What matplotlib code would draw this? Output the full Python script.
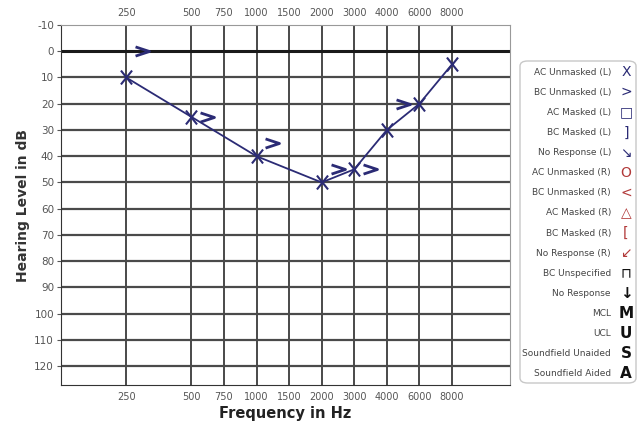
import numpy as np
import matplotlib
matplotlib.use("Agg")
from matplotlib import pyplot as plt
from matplotlib import transforms
from matplotlib.path import Path
from matplotlib.patches import FancyBboxPatch

# audiogram frequencies (Hz) and their axis slots (inter-octave freqs sit half-way)
freq_ticks = [250, 500, 750, 1000, 1500, 2000, 3000, 4000, 6000, 8000]
scale_freqs = [125, 250, 500, 750, 1000, 1500, 2000, 3000, 4000, 6000, 8000, 16000]
scale_slots = [-1, 0, 1, 1.5, 2, 2.5, 3, 3.5, 4, 4.5, 5, 6]
db_ticks = list(range(-10, 130, 10))

# left ear, air conduction unmasked (X)
ac_freqs = [250, 500, 1000, 2000, 3000, 4000, 6000, 8000]
ac_levels = [10, 25, 40, 50, 45, 30, 20, 5]

# left ear, bone conduction unmasked (>)
bc_freqs = [250, 500, 1000, 2000, 3000, 6000]
bc_levels = [0, 25, 35, 45, 45, 20]
bc_side = [1, 1, 1, 1, 1, -1]

legend_labels = ["AC Unmasked (L)", "BC Unmasked (L)", "AC Masked (L)", "BC Masked (L)",
                 "No Response (L)", "AC Unmasked (R)", "BC Unmasked (R)", "AC Masked (R)",
                 "BC Masked (R)", "No Response (R)", "BC Unspecified", "No Response",
                 "MCL", "UCL", "Soundfield Unaided", "Soundfield Aided"]
legend_symbols = ["X", ">", "\u25a1", "]", "\u2198", "O", "<", "\u25b3", "[", "\u2199",
                  "\u2293", "\u2193", "M", "U", "S", "A"]

NAVY = "#2b2b75"
RED = "#b23a3a"
legend_colors = [NAVY] * 5 + [RED] * 5 + ["#111111"] * 6
legend_bold = [False] * 11 + [True] * 5


def fwd(f):
    f = np.clip(np.asarray(f, dtype=float), 1e-3, None)
    return np.interp(np.log2(f), np.log2(scale_freqs), scale_slots,
                     left=np.nan, right=np.nan)


def inv(s):
    return 2 ** np.interp(s, scale_slots, np.log2(scale_freqs))


plt.rcParams['font.family'] = ['DejaVu Sans']
fig = plt.figure(figsize=(6.41, 4.25), dpi=100)
ax = fig.add_axes([61 / 641, 1 - 385 / 425, 449 / 641, 360 / 425])
ax.set_xscale('function', functions=(fwd, inv))
ax.set_xlim(inv(-1.0), inv(5.89))
ax.set_ylim(127.2, -10)

# grid
for f in freq_ticks:
    ax.axvline(f, color="#2a2a2a", lw=1.2, zorder=1)
for d in db_ticks[1:]:
    if d == 0:
        ax.axhline(d, color="#1a1a1a", lw=2.2, zorder=1)
    else:
        ax.axhline(d, color="#4a4a4a", lw=1.6, zorder=1)

for s in ["top", "right"]:
    ax.spines[s].set_color("#999999")
ax.spines["left"].set_color("#333333")
ax.spines["bottom"].set_color("#333333")

ax.set_yticks(db_ticks)
ax.set_yticklabels([str(d) for d in db_ticks])
ax.set_xticks(freq_ticks)
ax.set_xticklabels([str(f) for f in freq_ticks])
ax.xaxis.set_minor_locator(matplotlib.ticker.NullLocator())
ax.tick_params(axis="y", labelsize=7.5, colors="#555555", length=3, pad=2)
ax.tick_params(axis="x", labelsize=7, colors="#555555", length=0, pad=5,
               top=True, labeltop=True)

ax.set_ylabel("Hearing Level in dB", fontsize=10, fontweight="bold", color="#333333", labelpad=3)
ax.set_xlabel("Frequency in Hz", fontsize=10.5, fontweight="bold", color="#222222", labelpad=3)

x_marker = Path([(-0.4, -0.5), (0.4, 0.5), (-0.4, 0.5), (0.4, -0.5)],
                [Path.MOVETO, Path.LINETO, Path.MOVETO, Path.LINETO])
gt_marker = Path([(-0.5, 0.33), (0.5, 0.0), (-0.5, -0.33)],
                 [Path.MOVETO, Path.LINETO, Path.LINETO])

ax.plot(ac_freqs, ac_levels, color=NAVY, lw=1.3, marker=x_marker, markersize=10,
        markeredgewidth=1.5, markerfacecolor="none", zorder=3)

for f, lvl, side in zip(bc_freqs, bc_levels, bc_side):
    tr = transforms.offset_copy(ax.transData, fig=fig, x=11.5 * side, y=0, units="points")
    ax.plot([f], [lvl], linestyle="none", marker=gt_marker, markersize=10,
            markeredgewidth=2, markerfacecolor="none", markeredgecolor=NAVY,
            transform=tr, zorder=3)

# legend panel
box = FancyBboxPatch((520 / 641, 1 - 383 / 425), 116 / 641, 322 / 425,
                     boxstyle="round,pad=0,rounding_size=0.012", transform=fig.transFigure,
                     facecolor="white", edgecolor="#c8c8c8", lw=1.0)
fig.patches.append(box)
row_y = np.linspace(72, 374, len(legend_labels))
for lab, sym, col, bold, yy in zip(legend_labels, legend_symbols, legend_colors, legend_bold, row_y):
    fig.text(611 / 641, 1 - yy / 425, lab, ha="right", va="center", fontsize=6.5, color="#444444")
    fig.text(626 / 641, 1 - yy / 425, sym, ha="center", va="center",
             fontsize=11 if bold else 10, fontweight="bold" if bold else "normal", color=col)

fig.savefig("out.png", dpi=100)
